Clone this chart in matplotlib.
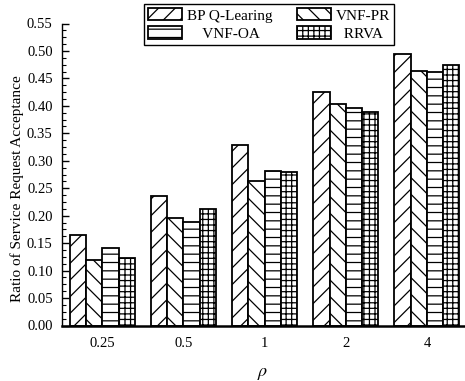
import matplotlib
matplotlib.use("Agg")
import matplotlib.pyplot as plt
import numpy as np
from matplotlib.ticker import MultipleLocator, AutoMinorLocator, FormatStrFormatter

categories = ["0.25", "0.5", "1", "2", "4"]
series_names = ["BP Q-Learing", "VNF-PR", "VNF-OA", "RRVA"]
bp_q = [0.165, 0.236, 0.329, 0.425, 0.495]
vnf_pr = [0.119, 0.196, 0.263, 0.403, 0.464]
vnf_oa = [0.141, 0.189, 0.282, 0.397, 0.462]
rrva = [0.123, 0.213, 0.279, 0.389, 0.475]
hatches = ["//", "\\\\", "--", "+++"]

plt.rcParams['font.family'] = ['Liberation Serif', 'DejaVu Serif']
plt.rcParams['hatch.linewidth'] = 0.9
plt.rcParams['mathtext.fontset'] = 'stix'

W, H = 465, 381
fig = plt.figure(figsize=(W / 100, H / 100), dpi=100)
ax_left, ax_right, ax_top, ax_bot = 61.7, 464, 23.5, 325.5
ax = fig.add_axes([ax_left / W, 1 - ax_bot / H, (ax_right - ax_left) / W, (ax_bot - ax_top) / H])

x = np.arange(len(categories))
w = 0.2
data = [bp_q, vnf_pr, vnf_oa, rrva]
bars = []
for i, (vals, h) in enumerate(zip(data, hatches)):
    b = ax.bar(x + (i - 1.5) * w, vals, w, facecolor='white', edgecolor='black',
               linewidth=1.3, hatch=h, label=series_names[i])
    bars.append(b)

ax.set_xlim(-0.5, 4.457)
ax.set_ylim(0, 0.55)
ax.set_xticks(x)
ax.set_xticklabels(categories)
ax.yaxis.set_major_locator(MultipleLocator(0.05))
ax.yaxis.set_minor_locator(AutoMinorLocator(4))
ax.yaxis.set_major_formatter(FormatStrFormatter('%.2f'))
ax.tick_params(axis='y', which='major', direction='in', length=5, width=1,
               labelsize=10.5, pad=6.5)
ax.tick_params(axis='y', which='minor', direction='in', length=3, width=0.8)
ax.tick_params(axis='x', length=0, labelsize=10.5, pad=8)

for s in ['top', 'right']:
    ax.spines[s].set_visible(False)
ax.spines['left'].set_linewidth(1.0)
ax.spines['bottom'].set_linewidth(1.8)

ax.set_ylabel("Ratio of Service Request Acceptance", fontsize=11)
ax.yaxis.set_label_coords((24 - ax_left) / (ax_right - ax_left),
                          1 - (189 - ax_top) / (ax_bot - ax_top))
ax.set_xlabel(r"$\rho$", fontsize=13, labelpad=11)

order = [0, 2, 1, 3]
disp = {"BP Q-Learing": "BP Q-Learing", "VNF-OA": "    VNF-OA",
        "VNF-PR": "VNF-PR", "RRVA": "  RRVA"}
leg = fig.legend([bars[i] for i in order], [disp[series_names[i]] for i in order],
                 ncol=2, loc='upper center', bbox_to_anchor=(269 / W, 1 - 4.3 / H),
                 fontsize=11, frameon=True, fancybox=False, edgecolor='black',
                 framealpha=1, handlelength=2.22, handleheight=0.85,
                 columnspacing=1.6, handletextpad=0.33, borderpad=0.25,
                 labelspacing=0.26, borderaxespad=0)
leg.get_frame().set_linewidth(1.0)

fig.savefig("out.png", dpi=100)
